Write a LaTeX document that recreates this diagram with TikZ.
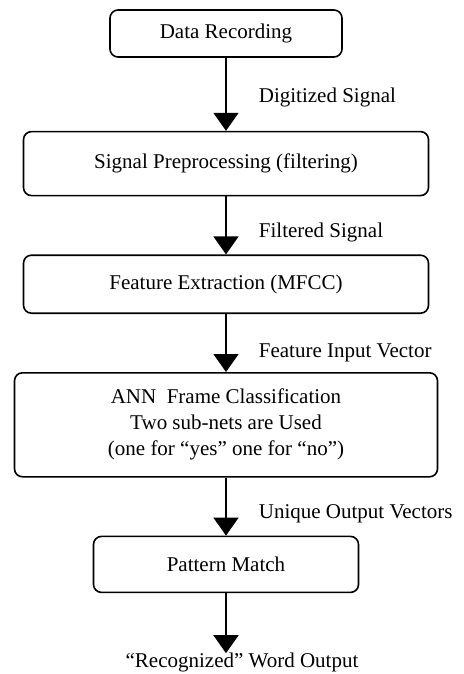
\documentclass[tikz,border=0pt]{standalone}
\usepackage{fontspec}
\setmainfont{Liberation Serif}
\usetikzlibrary{positioning, arrows.meta}
\tikzset{
	block/.style={draw, line width=1.6pt, rounded corners=8pt, inner sep=0pt, align=center},
	flow/.style={line width=1.8pt, -{Triangle[length=18pt, width=25pt]}},
	lbl/.style={right, inner sep=0pt, xshift=32pt}
}

\begin{document}
\begin{tikzpicture}[x=1pt, y=-1pt, node distance=58pt, font=\fontsize{21}{26}\selectfont]
	\useasboundingbox (0,0) rectangle (463,674);
	
	\node[block, minimum width=232pt, minimum height=47pt] (rec) at (226,33.5) {Data Recording};
	\node[block, below=73pt of rec, minimum width=405pt, minimum height=64pt] (pre) {Signal Preprocessing (filtering)};
	\node[block, below=of pre, minimum width=405pt, minimum height=58pt] (fea) {Feature Extraction (MFCC)};
	\node[block, below=of fea, minimum width=423pt, minimum height=104pt] (ann) {ANN~ Frame Classification\\Two sub-nets are Used\\(one for “yes” one for “no”)};
	\node[block, below=of ann, minimum width=265pt, minimum height=56pt] (pat) {Pattern Match};
	
	\coordinate[below=60pt of pat] (tip);
	\node[below=0pt of tip, xshift=16pt, inner sep=0pt] (word) {“Recognized” Word Output};
	
	\draw[flow] (rec) -- node[lbl, pos=0.55]{Digitized Signal} (pre);
	\draw[flow] (pre) -- node[lbl, pos=0.62]{Filtered Signal} (fea);
	\draw[flow] (fea) -- node[lbl, pos=0.67]{Feature Input Vector} (ann);
	\draw[flow] (ann) -- node[lbl, pos=0.62]{Unique Output Vectors} (pat);
	\draw[flow] (pat) -- (tip);
	
\end{tikzpicture}
\end{document}
